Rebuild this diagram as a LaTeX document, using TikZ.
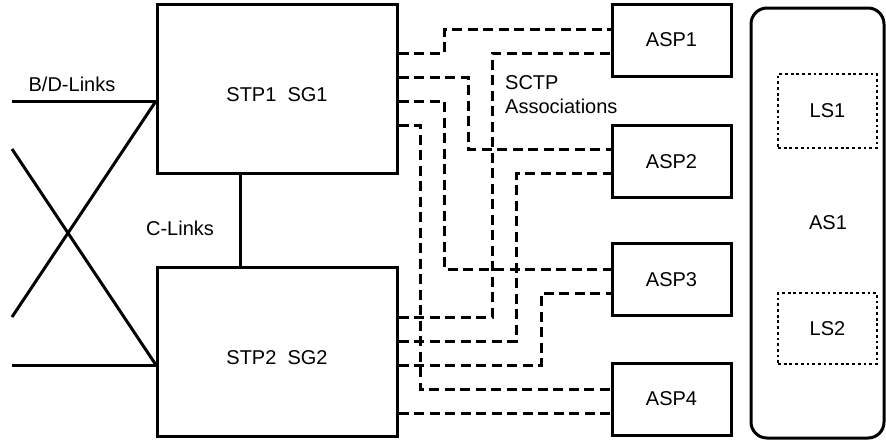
\documentclass[tikz,border=0pt]{standalone}
\usepackage{fontspec}
\setmainfont{Liberation Sans}
\begin{document}
\begin{tikzpicture}[x=1pt,y=-1pt,
  every node/.style={font=\fontsize{20}{24}\selectfont},
  box/.style={draw,line width=3pt,inner sep=0pt},
  lsbox/.style={draw,line width=2.8pt,dash pattern=on 2.8pt off 2.9pt,inner sep=0pt},
  solidline/.style={line width=3pt},
  dashline/.style={line width=3pt,dash pattern=on 10pt off 5.5pt}]
\useasboundingbox (0,0) rectangle (886,442);
% main boxes
\node[box,minimum width=239.5pt,minimum height=169pt] (stp1) at (277.25,88.5) {};
\node[box,minimum width=239.5pt,minimum height=169pt] (stp2) at (277.25,351.5) {};
\node (stp1t) at (277,95) {STP1\ \ SG1};
\node (stp2t) at (277,358) {STP2\ \ SG2};
\node[box,minimum width=119pt,minimum height=72pt] (asp1) at (671.5,40) {ASP1};
\node[box,minimum width=119pt,minimum height=72pt] (asp2) at (671.5,161.5) {ASP2};
\node[box,minimum width=119pt,minimum height=72pt] (asp3) at (671.5,279.5) {ASP3};
\node[box,minimum width=119pt,minimum height=72pt] (asp4) at (671.5,399) {ASP4};
\node[box,rounded corners=16pt,minimum width=133pt,minimum height=430pt] (as1) at (817.5,223) {};
\node (as1t) at (828,223) {AS1};
\node[lsbox,minimum width=99pt,minimum height=74pt] (ls1) at (827.5,111) {LS1};
\node[lsbox,minimum width=99pt,minimum height=71pt] (ls2) at (827.5,328.5) {LS2};
% labels
\node (bd) at (72,84) {B/D-Links};
\node (cl) at (180,228) {C-Links};
\node[anchor=west,align=left,inner sep=0pt] (sctp) at (505,95) {SCTP\\Associations};
% C-links
\draw[solidline] (stp1.south -| 240,0) -- (stp2.north -| 240,0);
% B/D links
\coordinate (l1) at (12,101);
\coordinate (l2) at (12,317);
\coordinate (l3) at (12,149);
\coordinate (l4) at (12,365);
\draw[solidline] (l1) -- (stp1.west |- l1);
\draw[solidline] (l2) -- (stp1.west |- l1);
\draw[solidline] (l3) -- (stp2.west |- l4);
\draw[solidline] (l4) -- (stp2.west |- l4);
% SCTP associations
\draw[dashline] (stp1.east |- 0,53) -- (444,53) |- (asp1.west |- 0,29);
\draw[dashline] (stp2.east |- 0,317) -- (492,317) |- (asp1.west |- 0,53);
\draw[dashline] (stp1.east |- 0,77) -- (468,77) |- (asp2.west |- 0,149);
\draw[dashline] (stp1.east |- 0,101) -- (444,101) |- (asp3.west |- 0,269);
\draw[dashline] (stp1.east |- 0,125) -- (420,125) |- (asp4.west |- 0,389);
\draw[dashline] (stp2.east |- 0,341) -- (516,341) |- (asp2.west |- 0,173);
\draw[dashline] (stp2.east |- 0,365) -- (541,365) |- (asp3.west |- 0,293);
\draw[dashline] (stp2.east |- 0,413) -- (asp4.west |- 0,413);
\end{tikzpicture}
\end{document}
